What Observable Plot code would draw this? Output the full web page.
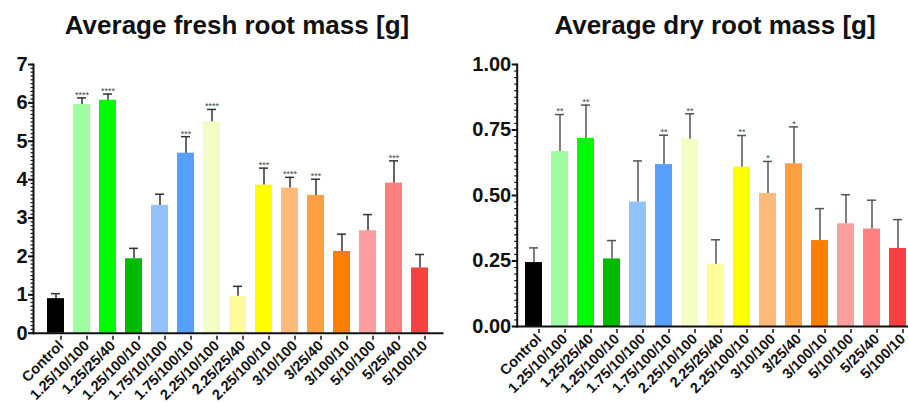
<!DOCTYPE html>
<html><head><meta charset="utf-8">
<script src="https://cdn.jsdelivr.net/npm/d3@7"></script>
<script src="https://cdn.jsdelivr.net/npm/@observablehq/plot@0.6"></script>
<style>
body{margin:0;background:#fff;font-family:"Liberation Sans",Arial,sans-serif;}
#wrap{position:relative;width:908px;height:403px;overflow:hidden;background:#fff;}
.title{position:absolute;top:0;padding-top:12px;font-size:26px;font-weight:bold;line-height:26px;color:#111;white-space:nowrap;transform:translateX(-50%);}
.chart{position:absolute;top:40px;}
</style></head><body>
<div id="wrap">
<div class="title" style="left:237px">Average fresh root mass [g]</div>
<div class="title" style="left:715px">Average dry root mass [g]</div>
<div id="left" class="chart" style="left:0"></div>
<div id="right" class="chart" style="left:454px"></div>
</div>
<script>
const categories = ["Control","1.25/10/100","1.25/25/40","1.25/100/10","1.75/10/100","1.75/100/10","2.25/10/100","2.25/25/40","2.25/100/10","3/10/100","3/25/40","3/100/10","5/10/100","5/25/40","5/100/10"];
const freshMean = [0.90, 5.96, 6.07, 1.94, 3.33, 4.69, 5.51, 0.96, 3.86, 3.78, 3.59, 2.13, 2.67, 3.91, 1.70];
const freshErr  = [0.13, 0.17, 0.16, 0.27, 0.29, 0.43, 0.32, 0.26, 0.44, 0.28, 0.42, 0.45, 0.42, 0.58, 0.35];
const freshStars = ["","****","****","","","***","****","","***","****","***","","","***",""];
const dryMean = [0.244, 0.668, 0.718, 0.258, 0.475, 0.618, 0.715, 0.238, 0.608, 0.508, 0.621, 0.328, 0.392, 0.372, 0.298];
const dryErr  = [0.056, 0.141, 0.127, 0.070, 0.157, 0.112, 0.097, 0.093, 0.121, 0.122, 0.141, 0.122, 0.111, 0.110, 0.110];
const dryStars = ["","**","**","","","**","**","","**","*","*","","","",""];
const palette = ["#000000","#a1fda1","#00fa00","#00bb00","#93c1f9","#569ffa","#f3fec6","#fefc9a","#fffe00","#feba7a","#fd9f42","#fe7f00","#fe9f9f","#fe7f7f","#f84040"];
const yTicksFresh = [0,1,2,3,4,5,6,7];
const yTicksDry = [0,0.25,0.5,0.75,1];

function chart({mean, err, stars, yTicks, minorStep, fmt, marginLeft, marginRight, marginBottom, xRange, errColor}) {
  const yMax = yTicks[yTicks.length - 1];
  const data = categories.map((c, i) => ({c, m: mean[i], e: mean[i] + err[i], s: stars[i]}));
  return Plot.plot({
    width: 454, height: 363,
    marginTop: 24, marginBottom, marginLeft, marginRight,
    style: {fontFamily: "Liberation Sans, Arial, sans-serif", background: "transparent", overflow: "visible", color: "#111"},
    x: {type: "band", domain: categories, range: xRange, paddingInner: 0.34, paddingOuter: 0.17},
    y: {domain: [0, yMax]},
    color: {domain: categories, range: palette},
    marks: [
      Plot.barY(data, {x: "c", y: "m", fill: "c"}),
      Plot.ruleX(data, {x: "c", y1: "m", y2: "e", stroke: errColor, strokeWidth: 1.5}),
      Plot.tickY(data, {x: "c", y: "e", stroke: errColor, strokeWidth: 1.5, insetLeft: 4, insetRight: 4}),
      Plot.text(data, {x: "c", y: "e", text: "s", dy: -3, fontSize: 9, fill: "#444"}),
      Plot.axisY({ticks: d3.range(0, yMax + 1e-9, minorStep), tickSize: 2.5, text: null, strokeWidth: 1.2}),
      Plot.axisY({ticks: yTicks, tickSize: 5, tickPadding: 1, tickFormat: fmt, fontSize: 20, fontWeight: "bold", fill: "#111", strokeWidth: 2, label: null}),
      Plot.axisX({tickRotate: -45, tickSize: 4, tickPadding: 3, dx: 5, dy: 3, fontSize: 14.5, fontWeight: "bold", fill: "#111", label: null, strokeWidth: 1.5}),
      Plot.frame({anchor: "left", strokeWidth: 2}),
      Plot.frame({anchor: "bottom", strokeWidth: 2})
    ]
  });
}

document.getElementById("left").append(chart({
  mean: freshMean, err: freshErr, stars: freshStars, yTicks: yTicksFresh, minorStep: 0.1,
  fmt: d3.format("d"), marginLeft: 33, marginRight: 12, marginBottom: 70.3,
  xRange: [38.5, 436], errColor: "#333"
}));
document.getElementById("right").append(chart({
  mean: dryMean, err: dryErr, stars: dryStars, yTicks: yTicksDry, minorStep: 0.025,
  fmt: d3.format(".2f"), marginLeft: 62.7, marginRight: 0, marginBottom: 77,
  xRange: [67, 457], errColor: "#555"
}));
</script>
</body></html>
